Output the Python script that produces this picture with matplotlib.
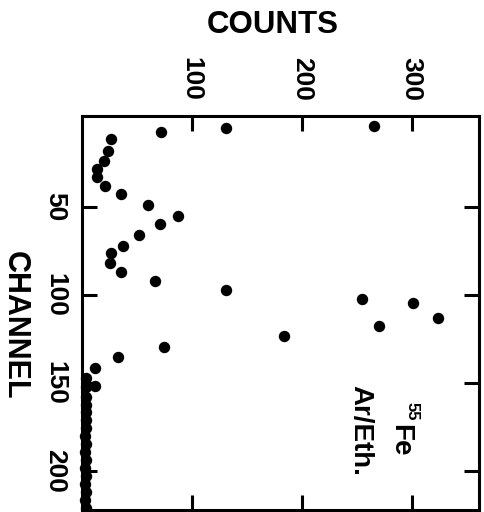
import matplotlib
matplotlib.use("Agg")
import matplotlib.pyplot as plt

# Data read from the (rotated) spectrum: channel vs counts
channel = [4.0, 4.9, 7.6, 11.5, 18.0, 23.7, 28.3, 33.1, 38.2, 42.8, 48.7, 55.1,
           59.9, 65.9, 72.0, 76.0, 81.6, 86.9, 92.2, 97.2, 102.5, 104.7, 112.9,
           117.6, 123.1, 129.4, 135.2, 141.7, 147.0, 152.0, 152.4, 157.8, 162.5,
           166.3, 171.0, 175.8, 180.3, 184.9, 189.4, 194.0, 198.5, 203.1, 207.6,
           212.2, 216.7, 221.2]
counts = [266, 131, 72, 27, 24, 20, 14, 14.5, 21, 35.5, 60, 88,
          71, 52, 38, 27, 26, 36, 67, 131, 255, 301, 324,
          270, 184, 75, 33, 12, 4, 12, 4, 4, 4,
          4, 4, 4, 3.5, 4, 3.5, 4, 3.5, 4, 3.5,
          4, 3.5, 4]

count_ticks = [100, 200, 300]
count_tick_labels = ["100", "200", "300"]
channel_ticks = [50, 100, 150, 200]
channel_tick_labels = ["50", "100", "150", "200"]

FONT = "Liberation Sans"

fig = plt.figure(figsize=(4.84, 5.12), dpi=100)
ax = fig.add_axes([81.5 / 484, 1 - 510 / 512, (479 - 81.5) / 484, (510 - 116) / 512])

ax.plot(counts, channel, "o", color="black", markersize=7.2, clip_on=False, zorder=3)

ax.set_xlim(0, 361)
ax.set_ylim(222.2, -1.7)

ax.set_xticks(count_ticks)
ax.set_xticklabels(count_tick_labels)
ax.set_yticks(channel_ticks)
ax.set_yticklabels(channel_tick_labels)

ax.tick_params(axis="x", which="both", top=True, bottom=True, labeltop=True,
               labelbottom=False, direction="in", length=11, width=2.2, pad=11)
ax.tick_params(axis="y", which="both", left=True, right=True, labelleft=True,
               labelright=False, direction="in", length=11, width=2.2, pad=10)

for lab in ax.get_xticklabels():
    lab.set_rotation(-90)
    lab.set_fontfamily(FONT)
    lab.set_fontweight("bold")
    lab.set_fontsize(19)
    lab.set_va("bottom")
    lab.set_ha("center")
for lab in ax.get_yticklabels():
    lab.set_rotation(-90)
    lab.set_fontfamily(FONT)
    lab.set_fontweight("bold")
    lab.set_fontsize(19)
    lab.set_va("center")
    lab.set_ha("right")

for sp in ax.spines.values():
    sp.set_linewidth(2.2)

fig.text(273 / 484, 1 - 25 / 512, "COUNTS", fontsize=22.5, fontweight="bold",
         family=FONT, ha="center", va="center")
fig.text(15 / 484, 1 - 325 / 512, "CHANNEL", fontsize=22, fontweight="bold",
         family=FONT, ha="center", va="center", rotation=-90)

fig.text(360 / 484, 1 - 430 / 512, "Ar/Eth.", fontsize=20, fontweight="bold",
         family=FONT, ha="center", va="center", rotation=-90)
fig.text(400 / 484, 1 - 440 / 512, "Fe", fontsize=20, fontweight="bold",
         family=FONT, ha="center", va="center", rotation=-90)
fig.text(412 / 484, 1 - 411 / 512, "55", fontsize=12, fontweight="bold",
         family=FONT, ha="center", va="center", rotation=-90)

fig.savefig("out.png", dpi=100)
